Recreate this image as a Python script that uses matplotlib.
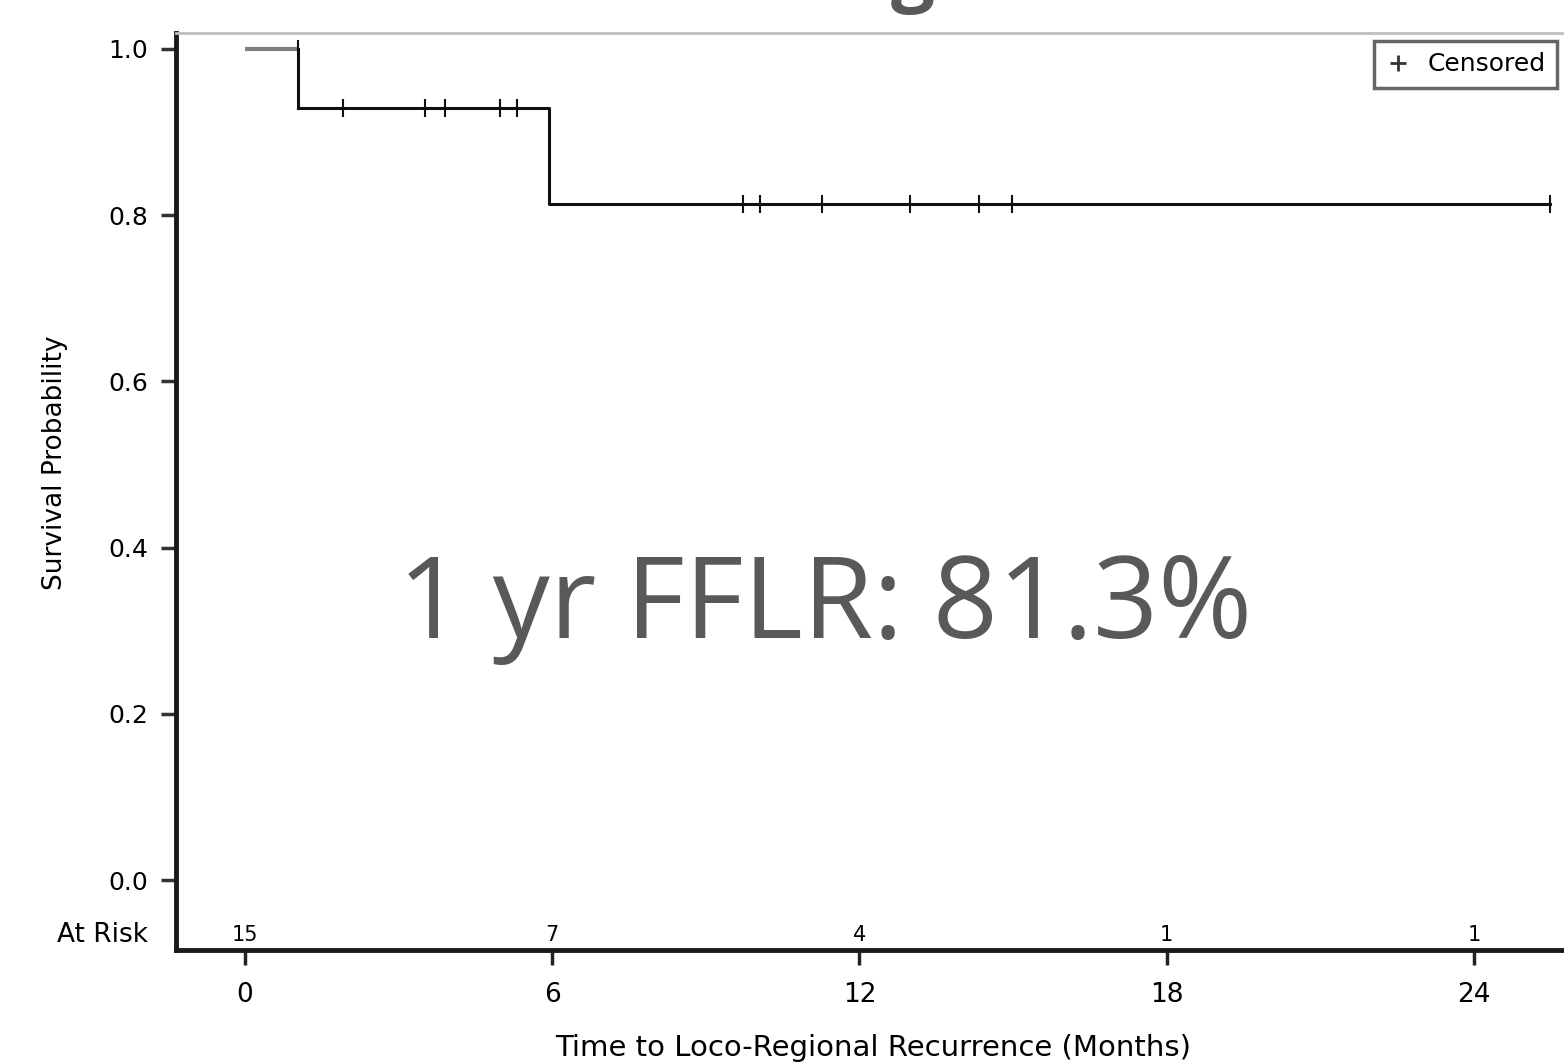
import matplotlib
matplotlib.use('Agg')
import matplotlib.pyplot as plt
from matplotlib.lines import Line2D

# Kaplan-Meier steps
step_times = [0.0, 1.03, 5.94, 25.49]
step_surv = [1.0, 0.929, 0.813, 0.813]

# censored observations
cens_times = [1.03, 1.91, 3.52, 3.91, 4.98, 5.31,
              9.72, 10.06, 11.27, 12.99, 14.34, 14.98, 25.49]
cens_surv = [1.0, 0.929, 0.929, 0.929, 0.929, 0.929,
             0.813, 0.813, 0.813, 0.813, 0.813, 0.813, 0.813]

risk_times = [0, 6, 12, 18, 24]
at_risk = [15, 7, 4, 1, 1]

yticks = [0.0, 0.2, 0.4, 0.6, 0.8, 1.0]
ytick_labels = ['0.0', '0.2', '0.4', '0.6', '0.8', '1.0']

W, H = 1564, 1063
fig = plt.figure(figsize=(W / 100, H / 100), dpi=100)
ax = fig.add_axes([176 / W, 113 / H, (W - 176) / W, (950 - 33) / H])

# first stretch drawn in grey, the rest black
ax.plot(step_times[:2], [step_surv[0], step_surv[0]], color='#808080', lw=3,
        solid_capstyle='butt')
ax.step(step_times[1:], step_surv[1:], where='post', color='#111111', lw=2.2)
ax.plot([step_times[1], step_times[1]], [step_surv[0], step_surv[1]],
        color='#111111', lw=2.2)
ax.plot(cens_times, cens_surv, ls='none', marker='|', ms=13, mew=1.5,
        color='#111111')

ax.set_xlim(-1.348, 25.76)
ax.set_ylim(-0.0842, 1.019)

ax.set_yticks(yticks)
ax.set_yticklabels(ytick_labels)
ax.set_xticks(risk_times)
ax.tick_params(axis='y', length=11, width=2.5, pad=9, labelsize=18,
               color='#333333')
ax.tick_params(axis='x', length=11, width=2.5, pad=12, labelsize=19,
               color='#222222')

for s in ['left', 'bottom']:
    ax.spines[s].set_linewidth(3.5)
    ax.spines[s].set_color('#1a1a1a')
ax.spines['right'].set_visible(False)
ax.spines['top'].set_color('#bfbfbf')
ax.spines['top'].set_linewidth(2)

ax.set_ylabel('Survival Probability', fontsize=19)
ax.yaxis.set_label_coords(-(176 - 68) / (W - 176), (950 - 463) / (950 - 33))
ax.set_xlabel('Time to Loco-Regional Recurrence (Months)', fontsize=21)
ax.xaxis.label.set_va('center')
ax.xaxis.set_label_coords((873 - 176) / (W - 176), -(1048 - 950) / (950 - 33))

# number at risk row, just above the x axis
for t, n in zip(risk_times, at_risk):
    ax.text(t, -0.066, str(n), ha='center', va='center', fontsize=15)
ax.text(-1.348 - 0.55, -0.066, 'At Risk', ha='right', va='center',
        fontsize=19, clip_on=False)

ax.legend(handles=[Line2D([], [], ls='none', marker='+', ms=12, mew=2,
                          color='#333333', label='Censored')],
          loc='upper right', bbox_to_anchor=(1557 / W, (1063 - 41) / H),
          bbox_transform=fig.transFigure, fontsize=18, frameon=True,
          fancybox=False, edgecolor='#404040', handlelength=1,
          handletextpad=0.7, borderpad=0.45, borderaxespad=0)
ax.get_legend().get_frame().set_linewidth(2.5)

ax.text(11.33, 0.291, '1 yr FFLR: 81.3%', ha='center', va='baseline',
        fontsize=82, color='#595959', family='Open Sans')

# bottom of the slide title, cut off at the top edge
fig.text(913 / W, 1 + 4 / H, 'g', ha='center', va='baseline', fontsize=56,
         fontweight='bold', color='#595959', family='Open Sans')

fig.savefig('out.png', dpi=100)
